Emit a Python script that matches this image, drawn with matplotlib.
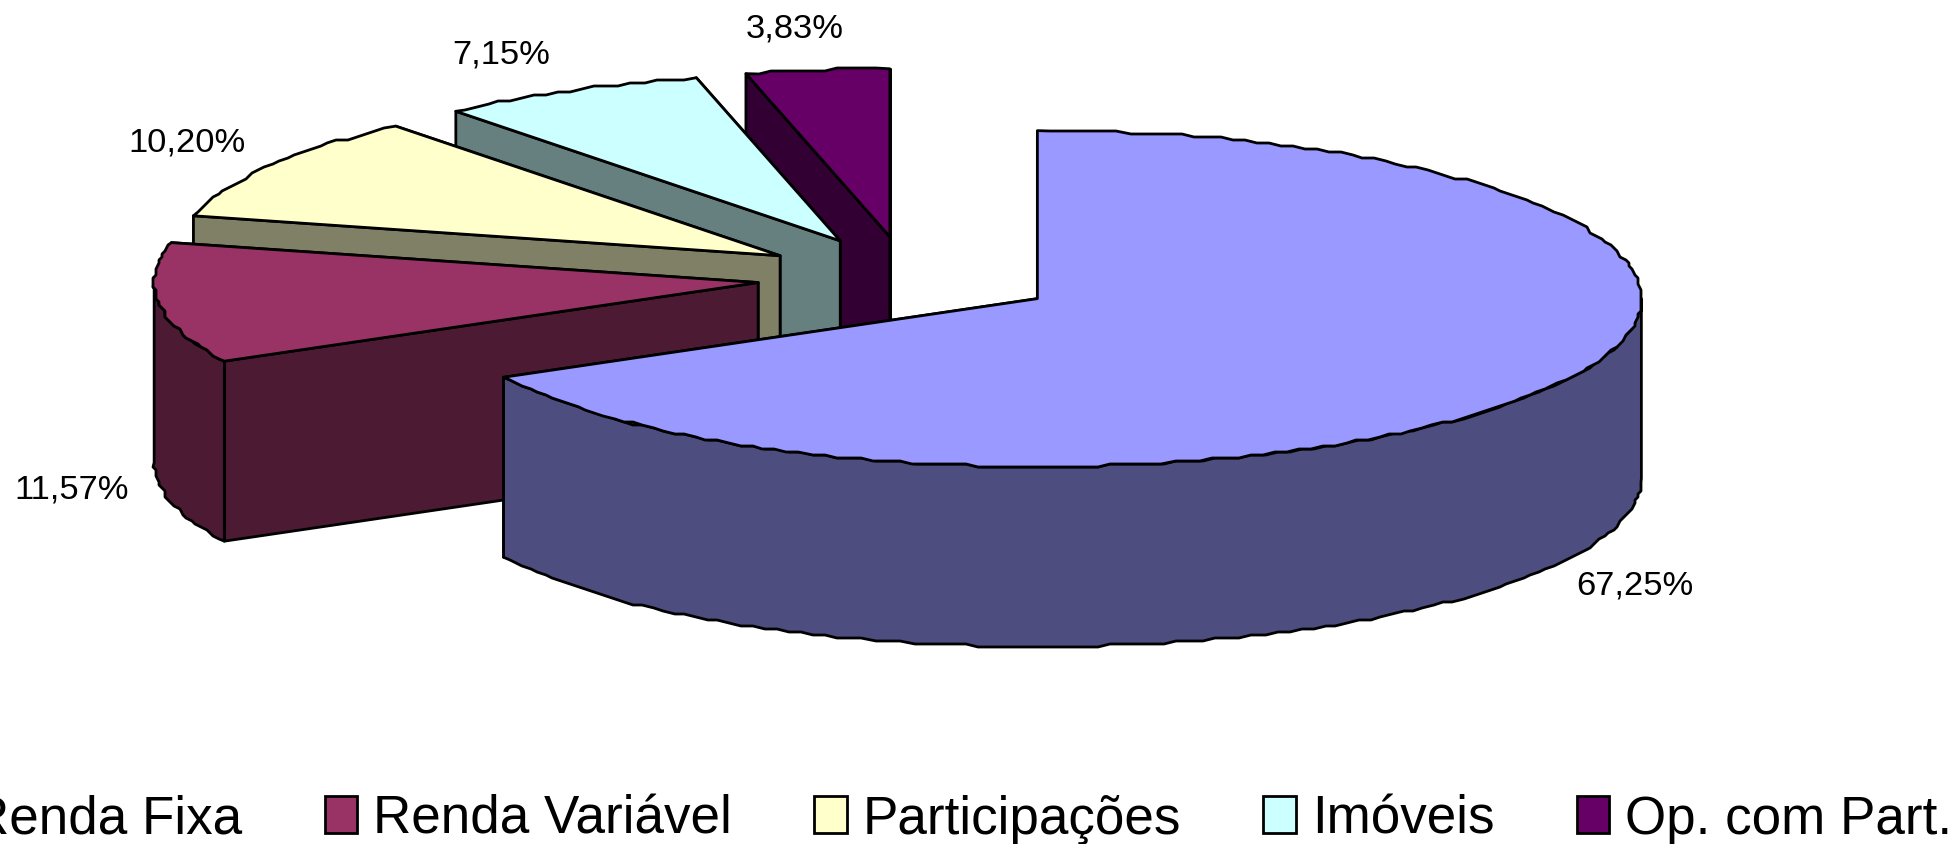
import numpy as np
import matplotlib
matplotlib.use('Agg')
import matplotlib.pyplot as plt
import matplotlib.patches as mpatches

plt.rcParams['font.family'] = ['Liberation Sans', 'DejaVu Sans']

categories = ['Renda Fixa', 'Renda Variável', 'Participações', 'Imóveis', 'Op. com Part.']
values = [67.25, 11.57, 10.20, 7.15, 3.83]
value_labels = ['67,25%', '11,57%', '10,20%', '7,15%', '3,83%']
top_colors = ['#9999FF', '#993366', '#FFFFCC', '#CCFFFF', '#660066']
side_colors = ['#4D4D80', '#4D1A33', '#808066', '#668080', '#330033']
label_x = [1635, 72, 187, 501, 795]
label_y = [586, 490, 143, 55, 29]

# pie geometry in image pixels
cx, cy = 908, 278.5
rx, ry = 604, 168
depth = 180
ex, ey = 151, 41
snap = 3

fig = plt.figure(figsize=(19.57, 8.45), dpi=100)
ax = fig.add_axes([0, 0, 1, 1])
ax.set_xlim(0, 1957)
ax.set_ylim(845, 0)
ax.axis('off')


def arc(x0, y0, a0, a1):
    # rough polyline like the exported chart, with small steps along the rim
    n = max(int((a1 - a0) / 1.25), 1)
    ang = np.radians(np.linspace(a0, a1, n + 1))
    xs = x0 + rx * np.sin(ang)
    ys = y0 - ry * np.cos(ang)
    xs[1:-1] = np.round(xs[1:-1] / snap) * snap
    ys[1:-1] = np.round(ys[1:-1] / snap) * snap
    return xs, ys


def poly(xs, ys, color, z):
    ax.fill(xs, ys, facecolor=color, edgecolor='black', lw=2, joinstyle='round', zorder=z)


angles = np.cumsum([0] + values) / sum(values) * 360

# back slices first, the big one comes last
for i in range(len(values) - 1, -1, -1):
    a0, a1 = angles[i], angles[i + 1]
    mid = np.radians((a0 + a1) / 2)
    x0 = cx + ex * np.sin(mid)
    y0 = cy - ey * np.cos(mid)
    z = 10 * (len(values) - i)
    xs, ys = arc(x0, y0, a0, a1)

    # cut faces, the far one first
    for k in [-1, 0]:
        poly([x0, xs[k], xs[k], x0], [y0, ys[k], ys[k] + depth, y0 + depth], side_colors[i], z)

    # outer wall, front half only
    f0, f1 = max(a0, 90), min(a1, 270)
    if f1 > f0:
        wx, wy = arc(x0, y0, f0, f1)
        poly(np.r_[wx, wx[::-1]], np.r_[wy, wy[::-1] + depth], side_colors[i], z + 1)

    poly(np.r_[x0, xs], np.r_[y0, ys], top_colors[i], z + 2)

for i in range(len(values)):
    ax.text(label_x[i], label_y[i], value_labels[i], fontsize=24.8, ha='center', va='center',
            color='black', zorder=100)

handles = [mpatches.Patch(facecolor=top_colors[i], edgecolor='black', lw=2, label=categories[i])
           for i in range(len(categories))]
ax.legend(handles=handles, loc='center right', bbox_to_anchor=(1952.5, 820), bbox_transform=ax.transData,
          ncol=5, frameon=False, fontsize=38.2, handlelength=0.62, handleheight=0.72,
          handletextpad=0.3, columnspacing=1.545, borderpad=0, borderaxespad=0)

plt.savefig('out.png', dpi=100)
